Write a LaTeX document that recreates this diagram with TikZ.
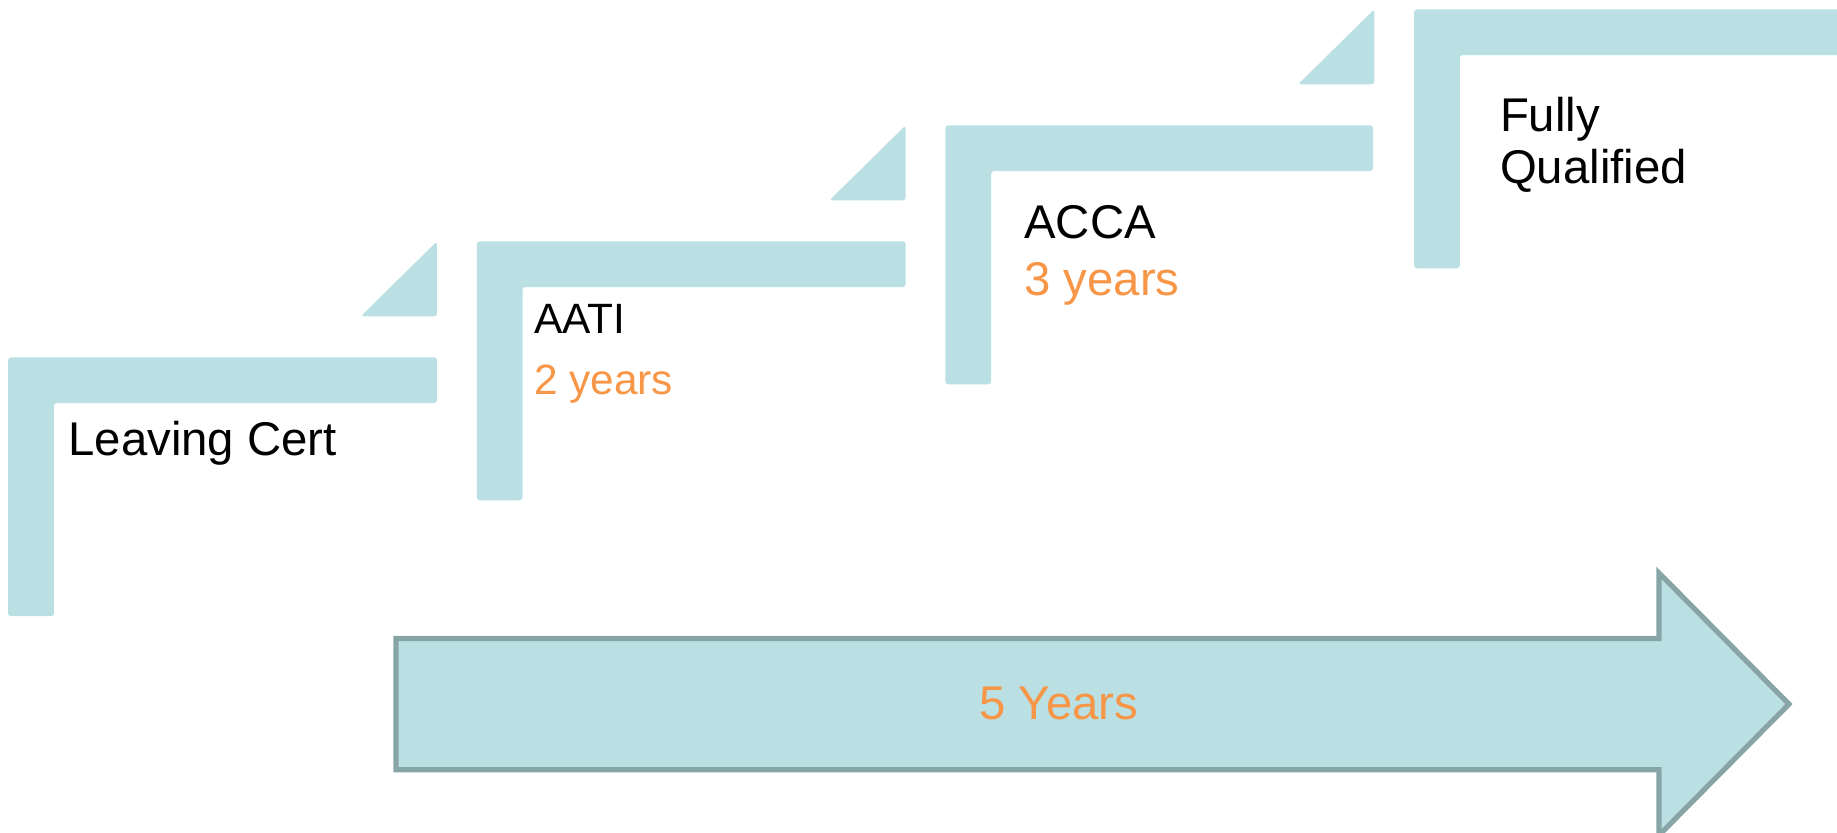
\documentclass[tikz,border=0pt]{standalone}
\usepackage{fontspec}
\setmainfont{Liberation Sans}
\definecolor{teal1}{HTML}{BBE0E3}
\definecolor{edge1}{HTML}{87A5A6}
\definecolor{orng}{HTML}{F79646}
\tikzset{
  stepL/.style={fill=teal1, draw=none, rounded corners=1.2pt},
  tri/.style={fill=teal1, draw=none, rounded corners=1.2pt},
  lbl/.style={anchor=base west, inner sep=0pt, font=\fontsize{20.2}{24}\selectfont},
  lblsm/.style={anchor=base west, inner sep=0pt, font=\fontsize{18.1}{22}\selectfont},
  big/.style={fill=teal1, draw=edge1, line width=2.2pt, line join=miter}
}
\begin{document}
\begin{tikzpicture}[x=0.5pt,y=-0.5pt]
\useasboundingbox (0,0) rectangle (1568,711);
% L-shaped steps
\foreach \i/\w in {0/366,1/366,2/365,3/420}{
  \pgfmathsetmacro{\ox}{7+400*\i}
  \pgfmathsetmacro{\oy}{305-99*\i}
  \fill[stepL] (\ox,\oy) -- ++(\w,0) -- ++(0,39) -- ++(-\w+39,0) -- ++(0,182) -- ++(-39,0) -- cycle;
}
% triangles
\foreach \i in {0,1,2}{
  \pgfmathsetmacro{\tx}{373+400*\i}
  \pgfmathsetmacro{\ty}{270-99*\i}
  \fill[tri] (\tx-65,\ty) -- (\tx,\ty-64) -- (\tx,\ty) -- cycle;
}
% big arrow
\draw[big] (338,545) -- (1416,545) -- (1416,489) -- (1527,601) -- (1416,713) -- (1416,657) -- (338,657) -- cycle;
% labels
\node[lbl] (lc) at (58,388.5) {Leaving Cert};
\node[lblsm] (aati) at (455.5,285) {AATI};
\node[lblsm, text=orng] (two) at (455.5,337) {2 years};
\node[lbl] (acca) at (874,204) {ACCA};
\node[lbl, text=orng] (three) at (874,252) {3 years};
\node[lbl] (fully) at (1280,112) {Fully};
\node[lbl] (qual) at (1280,156.5) {Qualified};
\node[anchor=base, inner sep=0pt, font=\fontsize{20.2}{24}\selectfont, text=orng] (five) at (903.8,614.5) {5 Years};
\end{tikzpicture}
\end{document}
